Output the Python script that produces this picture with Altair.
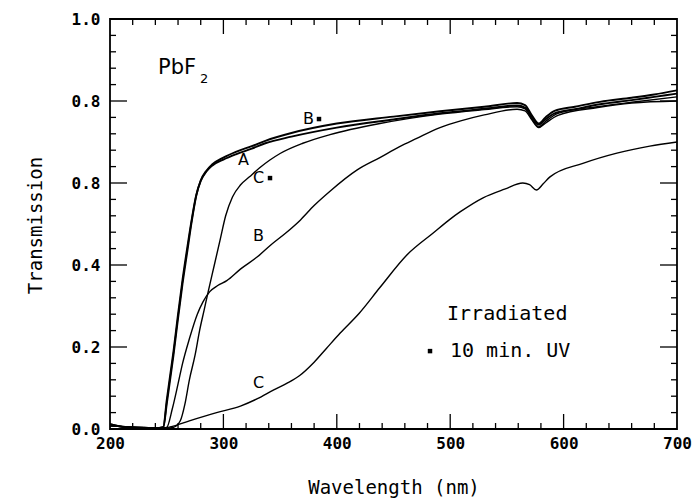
import altair as alt
import pandas as pd

# Transmission spectra of PbF2, before (A) and after UV / irradiation (B, C, B*, C*)
a_wl = [200, 215, 230, 240, 247, 250, 253, 256, 260, 264, 268, 272, 276, 280, 285, 290, 300, 311,
        325, 337, 360, 400, 450, 491, 530, 559, 566, 572, 578, 584, 592, 610, 632, 660, 680, 700]
a_t = [0.012, 0.004, 0.003, 0.002, 0.005, 0.07, 0.13, 0.19, 0.28, 0.365, 0.44, 0.51, 0.57, 0.605,
       0.628, 0.642, 0.657, 0.670, 0.684, 0.697, 0.713, 0.735, 0.755, 0.770, 0.781, 0.789, 0.784,
       0.762, 0.742, 0.755, 0.770, 0.780, 0.792, 0.802, 0.810, 0.818]

bs_wl = a_wl
bs_t = [0.012, 0.004, 0.003, 0.002, 0.004, 0.06, 0.12, 0.18, 0.27, 0.355, 0.43, 0.505, 0.568, 0.606,
        0.630, 0.645, 0.662, 0.676, 0.690, 0.703, 0.722, 0.745, 0.762, 0.775, 0.786, 0.795, 0.790,
        0.765, 0.745, 0.760, 0.776, 0.786, 0.798, 0.808, 0.816, 0.826]

cs_wl = [200, 230, 250, 256, 262, 266, 270, 275, 279, 283, 287, 292, 297, 302, 308, 315, 323, 332,
         341, 350, 370, 394, 438, 491, 530, 559, 566, 572, 578, 584, 595, 630, 660, 700]
cs_t = [0.008, 0.003, 0.002, 0.004, 0.02, 0.06, 0.12, 0.18, 0.24, 0.29, 0.34, 0.40, 0.46, 0.52,
        0.566, 0.595, 0.615, 0.637, 0.656, 0.672, 0.697, 0.718, 0.745, 0.768, 0.779, 0.786, 0.781,
        0.757, 0.737, 0.750, 0.770, 0.786, 0.797, 0.810]

b_wl = [200, 230, 245, 250, 255, 260, 264, 270, 277, 282, 288, 295, 303, 315, 330, 341, 355, 368,
        380, 394, 418, 438, 455, 470, 491, 510, 530, 559, 566, 572, 578, 584, 595, 630, 660, 700]
b_t = [0.008, 0.003, 0.002, 0.004, 0.05, 0.11, 0.16, 0.22, 0.28, 0.31, 0.335, 0.35, 0.362, 0.39,
       0.42, 0.447, 0.478, 0.51, 0.545, 0.58, 0.632, 0.662, 0.688, 0.708, 0.735, 0.752, 0.766,
       0.780, 0.776, 0.754, 0.735, 0.746, 0.765, 0.784, 0.795, 0.800]

c_wl = [200, 230, 245, 253, 270, 294, 315, 330, 344, 357, 367, 380, 391, 403, 420, 438, 462, 485,
        500, 509, 529, 548, 564, 570, 576, 582, 588, 617, 647, 676, 700]
c_t = [0.008, 0.003, 0.002, 0.005, 0.02, 0.04, 0.056, 0.074, 0.095, 0.113, 0.13, 0.163, 0.197,
       0.234, 0.283, 0.345, 0.425, 0.478, 0.512, 0.53, 0.564, 0.585, 0.60, 0.596, 0.583, 0.598,
       0.615, 0.648, 0.673, 0.69, 0.70]

# Curve labels placed in data coordinates
lab_text = ["A", "B", "C", "B", "C"]
lab_wl = [312.9, 370.2, 326.1, 326.1, 326.1]
lab_t = [0.656, 0.756, 0.612, 0.471, 0.112]

# Small square markers flag the UV-treated curves and the key
mark_wl = [384.3, 341.1, 482.2]
mark_t = [0.756, 0.612, 0.190]

note_text = ["Irradiated", "10 min. UV"]
note_wl = [497.2, 499.8]
note_t = [0.280, 0.190]

title_text = ["PbF"]
title_wl = [242.3]
title_t = [0.880]
sub_text = ["2"]
sub_wl = [279.4]
sub_t = [0.854]

x_ticks = [200, 300, 400, 500, 600, 700]
y_ticks = [0.0, 0.2, 0.4, 0.6, 0.8, 1.0]
y_tick_labels = ["0.0", "0.2", "0.4", "0.8", "0.8", "1.0"]

W, H = 567, 410
MONO = "DejaVu Sans Mono"
SANS = "DejaVu Sans"

rows = []
for name, wl, t in [("A", a_wl, a_t), ("B*", bs_wl, bs_t), ("C*", cs_wl, cs_t),
                    ("B", b_wl, b_t), ("C", c_wl, c_t)]:
    for i, (x, y) in enumerate(zip(wl, t)):
        rows.append({"curve": name, "wl": x, "T": y, "i": i})
spectra = pd.DataFrame(rows)

xs = alt.Scale(domain=[200, 700], nice=False, zero=False)
ys = alt.Scale(domain=[0, 1], nice=False)

label_expr = "".join(
    f"abs(datum.value - {v}) < 0.001 ? '{s}' : " for v, s in zip(y_ticks, y_tick_labels)
) + "''"

x_axis = alt.Axis(values=x_ticks, format="d", tickSize=0, domain=False, grid=False,
                  labelFont=MONO, labelFontSize=16, labelFontWeight="bold", labelColor="black",
                  labelPadding=6, labelFlush=False, title="Wavelength (nm)", titleFont=MONO,
                  titleFontSize=19, titleFontWeight="normal", titleColor="black",
                  titleY=58, titleBaseline="middle")
y_axis = alt.Axis(values=y_ticks, labelExpr=label_expr, tickSize=0, domain=False, grid=False,
                  labelFont=MONO, labelFontSize=16, labelFontWeight="bold", labelColor="black",
                  labelPadding=10, labelFlush=False, title="Transmission", titleFont=MONO,
                  titleFontSize=19, titleFontWeight="normal", titleColor="black",
                  titleX=-75, titleY=206, titleBaseline="middle", titleAlign="center")


def X(field):
    return alt.X(field, scale=xs, axis=x_axis)


def Y(field):
    return alt.Y(field, scale=ys, axis=y_axis)


base = alt.Chart(spectra)
thick = base.transform_filter("datum.curve == 'A' || datum.curve == 'B*'").mark_line(
    color="black", strokeWidth=1.9, clip=True, interpolate="monotone"
).encode(x=X("wl:Q"), y=Y("T:Q"), detail="curve:N", order="i:Q")
thin = base.transform_filter("datum.curve != 'A' && datum.curve != 'B*'").mark_line(
    color="black", strokeWidth=1.4, clip=True, interpolate="monotone"
).encode(x=X("wl:Q"), y=Y("T:Q"), detail="curve:N", order="i:Q")


def text_layer(texts, wls, ts, font, size):
    df = pd.DataFrame({"text": texts, "wl": wls, "T": ts})
    return alt.Chart(df).mark_text(
        align="left", baseline="middle", font=font, fontSize=size, color="black"
    ).encode(x=X("wl:Q"), y=Y("T:Q"), text="text:N")


labels = text_layer(lab_text, lab_wl, lab_t, SANS, 16)
notes = text_layer(note_text, note_wl, note_t, MONO, 20)
formula = text_layer(title_text, title_wl, title_t, SANS, 21)
subscript = text_layer(sub_text, sub_wl, sub_t, SANS, 13)

squares = alt.Chart(pd.DataFrame({"wl": mark_wl, "T": mark_t})).mark_square(
    size=20, color="black", opacity=1
).encode(x=X("wl:Q"), y=Y("T:Q"))


# Inward tick marks on all four sides of the frame
def x_ticks_layer(values, length, top):
    df = pd.DataFrame({"v": values})
    y0, y1 = (0, length) if top else (H, H - length)
    return alt.Chart(df).mark_rule(color="black", strokeWidth=1.3).encode(
        x=X("v:Q"), y=alt.value(y0), y2=alt.value(y1)
    )


def y_ticks_layer(values, length, right):
    df = pd.DataFrame({"v": values})
    x0, x1 = (W, W - length) if right else (0, length)
    return alt.Chart(df).mark_rule(color="black", strokeWidth=1.3).encode(
        y=Y("v:Q"), x=alt.value(x0), x2=alt.value(x1)
    )


x_major = list(range(300, 700, 100))
x_minor = [v for v in range(220, 700, 20) if v % 100 != 0]
y_major = [0.2, 0.4, 0.6, 0.8]
y_minor = [round(v * 0.04, 2) for v in range(1, 25) if (v % 5) != 0]

ticks = [
    x_ticks_layer(x_major, 15, False), x_ticks_layer(x_minor, 6, False),
    x_ticks_layer(x_major, 15, True), x_ticks_layer(x_minor, 6, True),
    y_ticks_layer(y_major, 17, False), y_ticks_layer(y_minor, 6, False),
    y_ticks_layer(y_major, 17, True), y_ticks_layer(y_minor, 6, True),
]

chart = alt.layer(thick, thin, *ticks, labels, notes, formula, subscript, squares).properties(
    width=W,
    height=H,
    padding={"left": 110, "top": 19, "right": 22, "bottom": 73},
    autosize=alt.AutoSizeParams(type="none"),
    background="white",
).configure_view(stroke="black", strokeWidth=1.8)

chart.save("out.html", embed_options={"renderer": "svg", "actions": False})
